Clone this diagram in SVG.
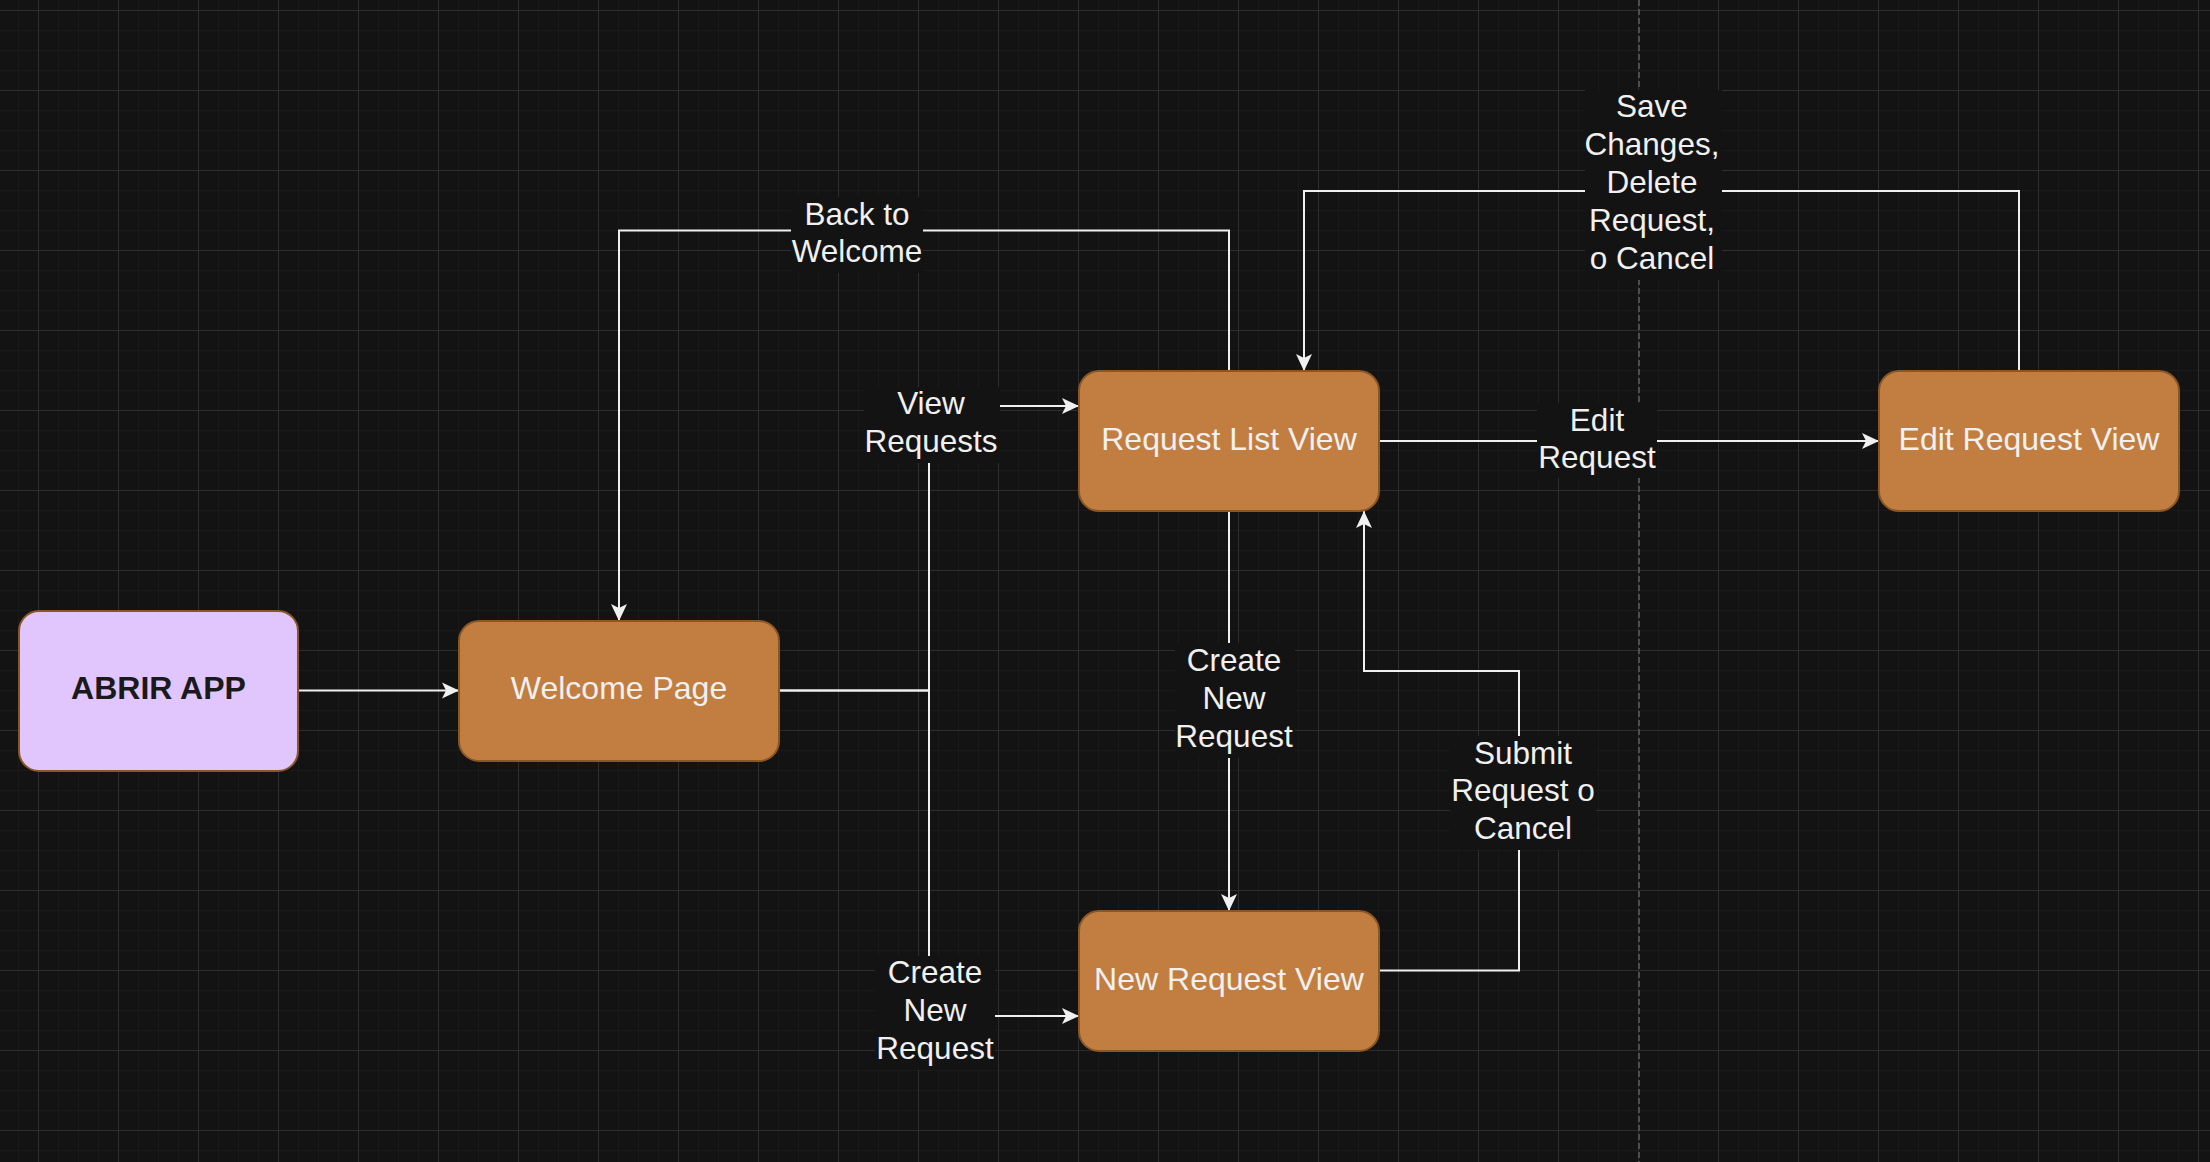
<svg xmlns="http://www.w3.org/2000/svg" width="2210" height="1162" viewBox="0 0 2210 1162">
  <defs>
    <pattern id="grid" x="38" y="10" width="80" height="80" patternUnits="userSpaceOnUse">
      <rect x="0" y="0" width="80" height="80" fill="#131313"/>
      <rect x="20" y="0" width="1" height="80" fill="#1a1a1a"/>
      <rect x="40" y="0" width="1" height="80" fill="#1a1a1a"/>
      <rect x="60" y="0" width="1" height="80" fill="#1a1a1a"/>
      <rect x="0" y="20" width="80" height="1" fill="#1a1a1a"/>
      <rect x="0" y="40" width="80" height="1" fill="#1a1a1a"/>
      <rect x="0" y="60" width="80" height="1" fill="#1a1a1a"/>
      <rect x="0" y="0" width="1" height="80" fill="#2d2d2d"/>
      <rect x="0" y="0" width="80" height="1" fill="#2d2d2d"/>
    </pattern>
    <marker id="arrow" markerUnits="userSpaceOnUse" viewBox="0 0 18 18" markerWidth="18" markerHeight="18" refX="17" refY="9" orient="auto">
      <path d="M17 9 L0 1 L4 9 L0 17 Z" fill="#f0f0f0"/>
    </marker>
    <style>
      .edge { fill: none; stroke: #f0f0f0; stroke-width: 2; marker-end: url(#arrow); }
      .lbg { fill: #131313; }
      .lbl { font-family: "Liberation Sans", Arial, Helvetica, sans-serif; font-size: 31.5px; fill: #f0f0f0; text-anchor: middle; }
      .node { fill: #c27e40; stroke: #8a5624; stroke-width: 2; }
      .start { fill: #e1c5fd; stroke: #8a5624; stroke-width: 2; }
      .ntext { font-family: "Liberation Sans", Arial, Helvetica, sans-serif; font-size: 32px; fill: #f0f0f0; text-anchor: middle; }
      .stext { font-family: "Liberation Sans", Arial, Helvetica, sans-serif; font-size: 32px; font-weight: bold; fill: #1a1a1a; text-anchor: middle; }
    </style>
  </defs>

  <rect x="0" y="0" width="2210" height="1162" fill="url(#grid)"/>
  <line x1="1639" y1="0" x2="1639" y2="1162" stroke="#4e4e4e" stroke-width="2" stroke-dasharray="6 3"/>

  <g id="connectors">
    <path id="e-abrir-welcome" class="edge" d="M298 690.5 H459"/>
    <path id="e-welcome-list" class="edge" d="M779 690.5 H929 V406 H1079"/>
    <path id="e-welcome-new" class="edge" d="M779 690.5 H929 V1016 H1079"/>
    <path id="e-list-welcome" class="edge" d="M1229 371 V230.5 H619 V621"/>
    <path id="e-list-edit" class="edge" d="M1379 441 H1879"/>
    <path id="e-edit-list" class="edge" d="M2019 371 V191 H1304 V371"/>
    <path id="e-list-new" class="edge" d="M1229 511 V911"/>
    <path id="e-new-list" class="edge" d="M1379 970.5 H1519 V671 H1364 V511"/>

    <g id="label-view-requests">
      <rect class="lbg" x="864" y="387" width="136" height="76"/>
      <text class="lbl" x="931"><tspan x="931" y="414">View</tspan><tspan x="931" y="452">Requests</tspan></text>
    </g>
    <g id="label-create-new-bottom">
      <rect class="lbg" x="875" y="956" width="120" height="114"/>
      <text class="lbl" x="935"><tspan x="935" y="983">Create</tspan><tspan x="935" y="1021">New</tspan><tspan x="935" y="1059">Request</tspan></text>
    </g>
    <g id="label-back-to-welcome">
      <rect class="lbg" x="791" y="197" width="132" height="76"/>
      <text class="lbl" x="857"><tspan x="857" y="225">Back to</tspan><tspan x="857" y="262">Welcome</tspan></text>
    </g>
    <g id="label-edit-request">
      <rect class="lbg" x="1537" y="403" width="120" height="75"/>
      <text class="lbl" x="1597"><tspan x="1597" y="431">Edit</tspan><tspan x="1597" y="468">Request</tspan></text>
    </g>
    <g id="label-save-changes">
      <rect class="lbg" x="1585" y="90" width="137" height="190"/>
      <text class="lbl" x="1652"><tspan x="1652" y="117">Save</tspan><tspan x="1652" y="155">Changes,</tspan><tspan x="1652" y="193">Delete</tspan><tspan x="1652" y="231">Request,</tspan><tspan x="1652" y="269">o Cancel</tspan></text>
    </g>
    <g id="label-create-new-mid">
      <rect class="lbg" x="1175" y="643" width="120" height="115"/>
      <text class="lbl" x="1234"><tspan x="1234" y="671">Create</tspan><tspan x="1234" y="709">New</tspan><tspan x="1234" y="747">Request</tspan></text>
    </g>
    <g id="label-submit">
      <rect class="lbg" x="1450" y="736" width="146" height="114"/>
      <text class="lbl" x="1523"><tspan x="1523" y="764">Submit</tspan><tspan x="1523" y="801">Request o</tspan><tspan x="1523" y="839">Cancel</tspan></text>
    </g>
  </g>

  <g id="node-abrir-app">
    <rect class="start" x="19" y="611" width="279" height="160" rx="20" ry="20"/>
    <text class="stext" x="158.5" y="699">ABRIR APP</text>
  </g>
  <g id="node-welcome-page">
    <rect class="node" x="459" y="621" width="320" height="140" rx="20" ry="20"/>
    <text class="ntext" x="619" y="699">Welcome Page</text>
  </g>
  <g id="node-request-list-view">
    <rect class="node" x="1079" y="371" width="300" height="140" rx="20" ry="20"/>
    <text class="ntext" x="1229" y="450">Request List View</text>
  </g>
  <g id="node-edit-request-view">
    <rect class="node" x="1879" y="371" width="300" height="140" rx="20" ry="20"/>
    <text class="ntext" x="2029" y="450">Edit Request View</text>
  </g>
  <g id="node-new-request-view">
    <rect class="node" x="1079" y="911" width="300" height="140" rx="20" ry="20"/>
    <text class="ntext" x="1229" y="990">New Request View</text>
  </g>
</svg>
